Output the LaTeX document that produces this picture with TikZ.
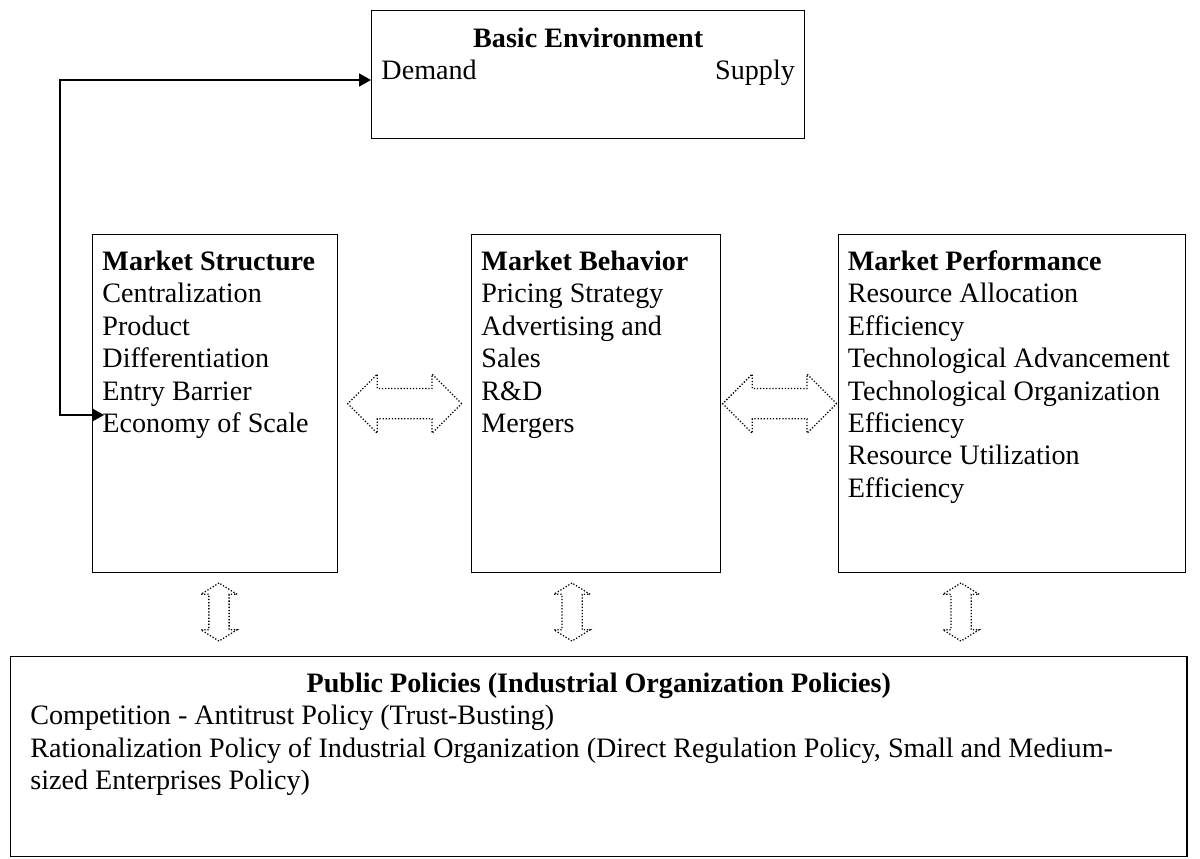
\documentclass[tikz,border=0pt]{standalone}
\usepackage{fontspec}
\setmainfont{Liberation Serif}
\usetikzlibrary{arrows.meta}
\usetikzlibrary{calc, shapes.arrows}

\tikzset{
  box/.style={draw, line width=0.9pt, rectangle, anchor=north west, align=left,
    inner ysep=0pt, inner xsep=7pt, text height=25.6pt, font=\fontsize{20}{23}\selectfont,
    execute at begin node={\spaceskip=0pt\xspaceskip=0pt}},
  link/.style={line width=0.9pt, {Triangle[length=8.5pt, width=9.3pt]}-{Triangle[length=8.5pt, width=9.3pt]}},
  sideways/.style={draw, line width=0.9pt, dash pattern=on 0.9pt off 1.3pt, double arrow,
    double arrow tip angle=90, double arrow head extend=10.3pt,
    inner xsep=0pt, inner ysep=10.3pt, minimum width=1pt, minimum height=81pt},
  updown/.style={draw, line width=0.9pt, dash pattern=on 0.9pt off 1.3pt, double arrow, rotate=90,
    double arrow tip angle=116, double arrow head extend=5.7pt,
    inner xsep=0pt, inner ysep=6.75pt, minimum width=1pt, minimum height=41.3pt}
}

\begin{document}
\begin{tikzpicture}[x=0.025cm, y=-0.025cm]
    \useasboundingbox (0,0) rectangle (1200,858);

    \node[box, text height=26.3pt, text width=294pt, text depth=64.7pt] (basic) at (371,10)
      {\hfill\textbf{Basic Environment}\hfill\mbox{}\\Demand\hfill Supply};

    \node[box, text width=160.3pt, text depth=214.8pt] (structure) at (92,234)
      {\textbf{Market Structure}\\Centralization\\Product\\Differentiation\\Entry Barrier\\Economy of Scale};
    \node[box, text width=163.1pt, text depth=214.8pt] (behavior) at (471,234)
      {\textbf{Market Behavior}\\Pricing Strategy\\Advertising and\\Sales\\R\&D\\Mergers};
    \node[box, inner xsep=6.5pt, text width=233.8pt, text depth=214.8pt] (performance) at (838,234)
      {\textbf{Market Performance}\\Resource Allocation\\Efficiency\\Technological Advancement\\Technological Organization\\Efficiency\\Resource Utilization\\Efficiency};

    \node[box, inner xsep=14pt, text width=808.5pt, text depth=116.7pt] (policy) at (10,656)
      {\hfill\textbf{Public Policies (Industrial Organization Policies)}\hfill\mbox{}\\
       Competition - Antitrust Policy (Trust-Busting)\\
       Rationalization Policy of Industrial Organization (Direct Regulation Policy, Small and Medium-\\
       sized Enterprises Policy)};

    % hollow two-way arrows between the boxes
    \node[sideways] (sb) at ($(structure.east)!0.5!(behavior.west)$) {};
    \node[sideways] (bp) at ($(behavior.east)!0.5!(performance.west)$) {};
    \node[updown] (s2) at (219,612) {};
    \node[updown] (b2) at (572,612) {};
    \node[updown] (p2) at (961,612) {};

    % feedback line on the left
    \coordinate (upper) at (60,80);
    \coordinate (lower) at (60,415);
    \draw[link] (basic.west |- upper) -- (upper) -- (lower) -- ($(structure.west |- lower)+(12,0)$);
\end{tikzpicture}
\end{document}
